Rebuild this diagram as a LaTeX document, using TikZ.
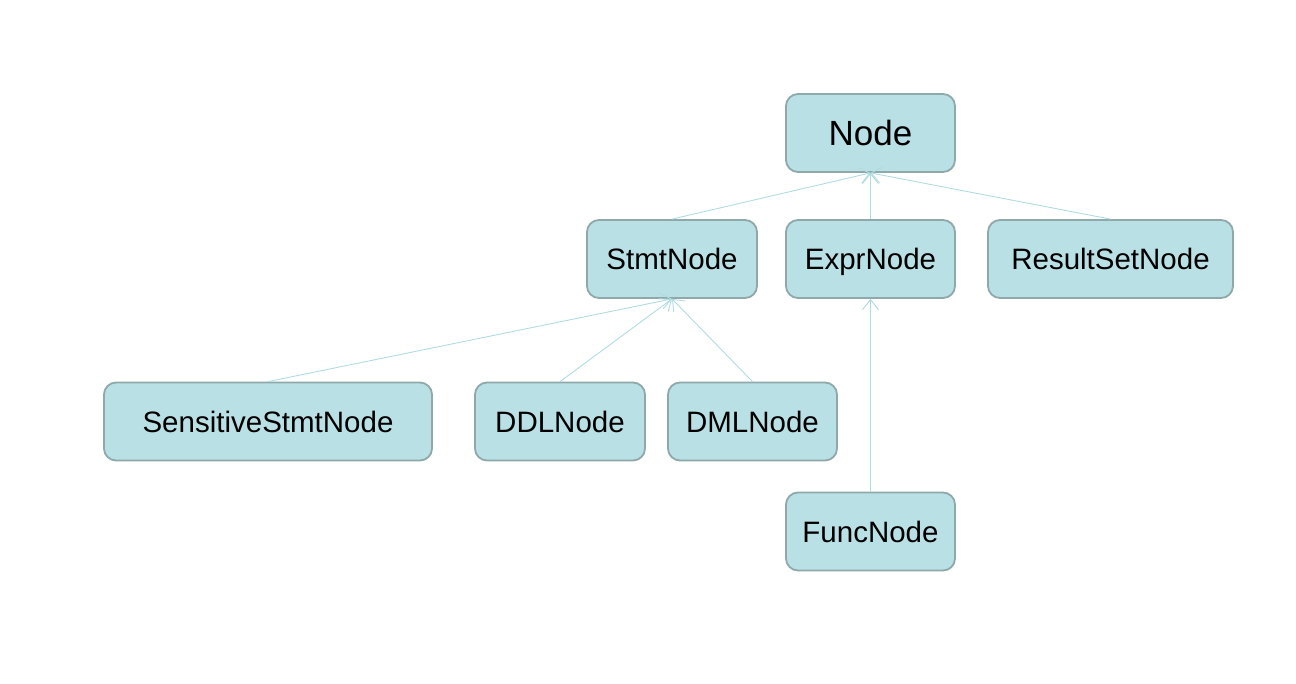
\documentclass[tikz,border=0pt]{standalone}
\usepackage{fontspec}
\setmainfont{Liberation Sans}
\usetikzlibrary{arrows.meta}
\definecolor{boxfill}{HTML}{B9E0E4}
\definecolor{boxline}{HTML}{8FA8AA}
\definecolor{edgecol}{HTML}{B0DCE0}
\tikzset{
  cls/.style={draw=boxline, line width=1.8pt, fill=boxfill, rounded corners=12pt,
    minimum height=78pt, inner sep=0pt, text=black, text height=27pt, text depth=6pt,
    font=\fontsize{29.5}{34}\selectfont},
  big/.style={font=\fontsize{35}{40}\selectfont, text height=31pt, text depth=6pt},
  inh/.style={draw=edgecol, line width=0.9pt, -{Straight Barb[length=10pt,width=16pt]}}
}
\begin{document}
\begin{tikzpicture}[x=1pt,y=-1pt]
\useasboundingbox (0,0) rectangle (1296,683);
\node[cls,big,minimum width=169pt] (node) at (870.5,133) {Node};
\node[cls,minimum width=170pt] (stmt) at (672,259) {StmtNode};
\node[cls,minimum width=169pt] (expr) at (870.5,259) {ExprNode};
\node[cls,minimum width=245pt] (rs) at (1110.5,259) {ResultSetNode};
\node[cls,minimum width=328pt] (sens) at (268,421.5) {SensitiveStmtNode};
\node[cls,minimum width=170pt] (ddl) at (560,421.5) {DDLNode};
\node[cls,minimum width=169pt] (dml) at (752.5,421.5) {DMLNode};
\node[cls,minimum width=169pt] (func) at (870.5,531.5) {FuncNode};
\draw[inh] (stmt.north) -- (node.south);
\draw[inh] (expr.north) -- (node.south);
\draw[inh] (rs.north) -- (node.south);
\draw[inh] (sens.north) -- (stmt.south);
\draw[inh] (ddl.north) -- (stmt.south);
\draw[inh] (dml.north) -- (stmt.south);
\draw[inh] (func.north) -- (expr.south);
\end{tikzpicture}
\end{document}
